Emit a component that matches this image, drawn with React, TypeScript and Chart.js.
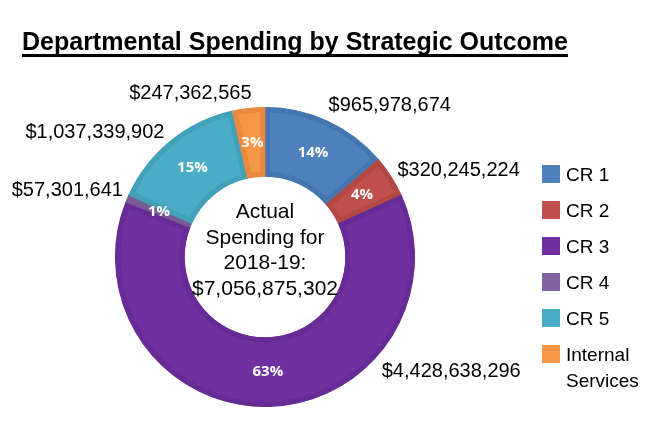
import { useEffect, useRef } from "react";
import { Chart, registerables } from "chart.js";

Chart.register(...registerables);

const titleText = "Departmental Spending by Strategic Outcome";
const categories = ["CR 1", "CR 2", "CR 3", "CR 4", "CR 5", "Internal Services"];
const legendLines = [["CR 1"], ["CR 2"], ["CR 3"], ["CR 4"], ["CR 5"], ["Internal", "Services"]];
const spending = [965978674, 320245224, 4428638296, 57301641, 1037339902, 247362565];
const valueLabels = ["$965,978,674", "$320,245,224", "$4,428,638,296", "$57,301,641", "$1,037,339,902", "$247,362,565"];
const percentLabels = ["14%", "4%", "63%", "1%", "15%", "3%"];
const centerLines = ["Actual", "Spending for", "2018-19:", "$7,056,875,302"];

const fillColors = ["#4f81bd", "#c0504d", "#7030a0", "#8064a2", "#4bacc6", "#f79646"];
const borderColors = ["#4676b0", "#b24844", "#662b95", "#765b94", "#42a0b9", "#e88a3f"];

// annotation placement relative to each slice's outer mid-point (styling only)
const labelNudge = [
  { dx: 1, dy: -15, align: "left" },
  { dx: 6, dy: -6, align: "left" },
  { dx: 113, dy: -35, align: "left" },
  { dx: -4, dy: -8, align: "right" },
  { dx: -6, dy: -8, align: "right" },
  { dx: 3, dy: -14, align: "right" },
];

const FONT = '"Liberation Sans", Arial, sans-serif';

const annotations = {
  id: "annotations",
  afterDraw(chart: any) {
    const ctx = chart.ctx as CanvasRenderingContext2D;
    const meta = chart.getDatasetMeta(0);
    ctx.save();

    // title with underline
    ctx.fillStyle = "#000";
    ctx.font = `bold 25px ${FONT}`;
    ctx.textAlign = "left";
    ctx.textBaseline = "alphabetic";
    const tx = 22;
    ctx.fillText(titleText, tx, 50);
    const tw = ctx.measureText(titleText).width;
    ctx.fillRect(tx, 54, tw, 3);

    // percent labels and value labels
    meta.data.forEach((arc: any, i: number) => {
      const p = arc.getProps(["x", "y", "startAngle", "endAngle", "innerRadius", "outerRadius"], true);
      const mid = (p.startAngle + p.endAngle) / 2;
      const rm = (p.innerRadius + p.outerRadius) / 2;
      ctx.font = `bold 15px "Open Sans", ${FONT}`;
      ctx.fillStyle = "#ffffff";
      ctx.textAlign = "center";
      ctx.textBaseline = "middle";
      ctx.fillText(percentLabels[i], p.x + Math.cos(mid) * rm, p.y + Math.sin(mid) * rm);

      const ax = p.x + Math.cos(mid) * p.outerRadius;
      const ay = p.y + Math.sin(mid) * p.outerRadius;
      const n = labelNudge[i];
      ctx.font = `20px ${FONT}`;
      ctx.fillStyle = "#000";
      ctx.textAlign = n.align as CanvasTextAlign;
      ctx.textBaseline = "middle";
      ctx.fillText(valueLabels[i], ax + n.dx, ay + n.dy);
    });

    // center text
    const c = meta.data[0];
    ctx.font = `21px ${FONT}`;
    ctx.fillStyle = "#000";
    ctx.textAlign = "center";
    ctx.textBaseline = "alphabetic";
    centerLines.forEach((line, i) => {
      ctx.fillText(line, c.x, c.y - 39 + i * 25.7);
    });

    // legend
    const lx = 542;
    const ly = 174;
    const step = 36;
    legendLines.forEach((lines, i) => {
      const cy = ly + i * step;
      ctx.fillStyle = fillColors[i];
      ctx.fillRect(lx, cy - 9, 18, 18);
      ctx.fillStyle = "#000";
      ctx.font = `19px ${FONT}`;
      ctx.textAlign = "left";
      ctx.textBaseline = "middle";
      lines.forEach((t, j) => ctx.fillText(t, lx + 24, cy + 2 + j * 26));
    });

    ctx.restore();
  },
};

export default function App() {
  const ref = useRef<HTMLCanvasElement>(null);
  useEffect(() => {
    if (!ref.current) return;
    const chart = new Chart(ref.current, {
      type: "doughnut",
      data: {
        labels: categories,
        datasets: [
          {
            data: spending,
            backgroundColor: fillColors,
            borderColor: borderColors,
            borderWidth: 5,
            borderAlign: "inner",
            borderJoinStyle: "miter",
          } as any,
        ],
      },
      options: {
        responsive: false,
        devicePixelRatio: 1,
        animation: false,
        cutout: "53.5%",
        layout: { padding: { left: 115, right: 239, top: 107, bottom: 29 } },
        plugins: {
          legend: { display: false },
          title: { display: false },
          tooltip: { enabled: false },
        },
      },
      plugins: [annotations],
    });
    return () => chart.destroy();
  }, []);
  return (
    <div style={{ position: "fixed", left: 0, top: 0, width: 654, height: 436, background: "#fff" }}>
      <canvas ref={ref} width={654} height={436} style={{ display: "block" }} />
    </div>
  );
}
